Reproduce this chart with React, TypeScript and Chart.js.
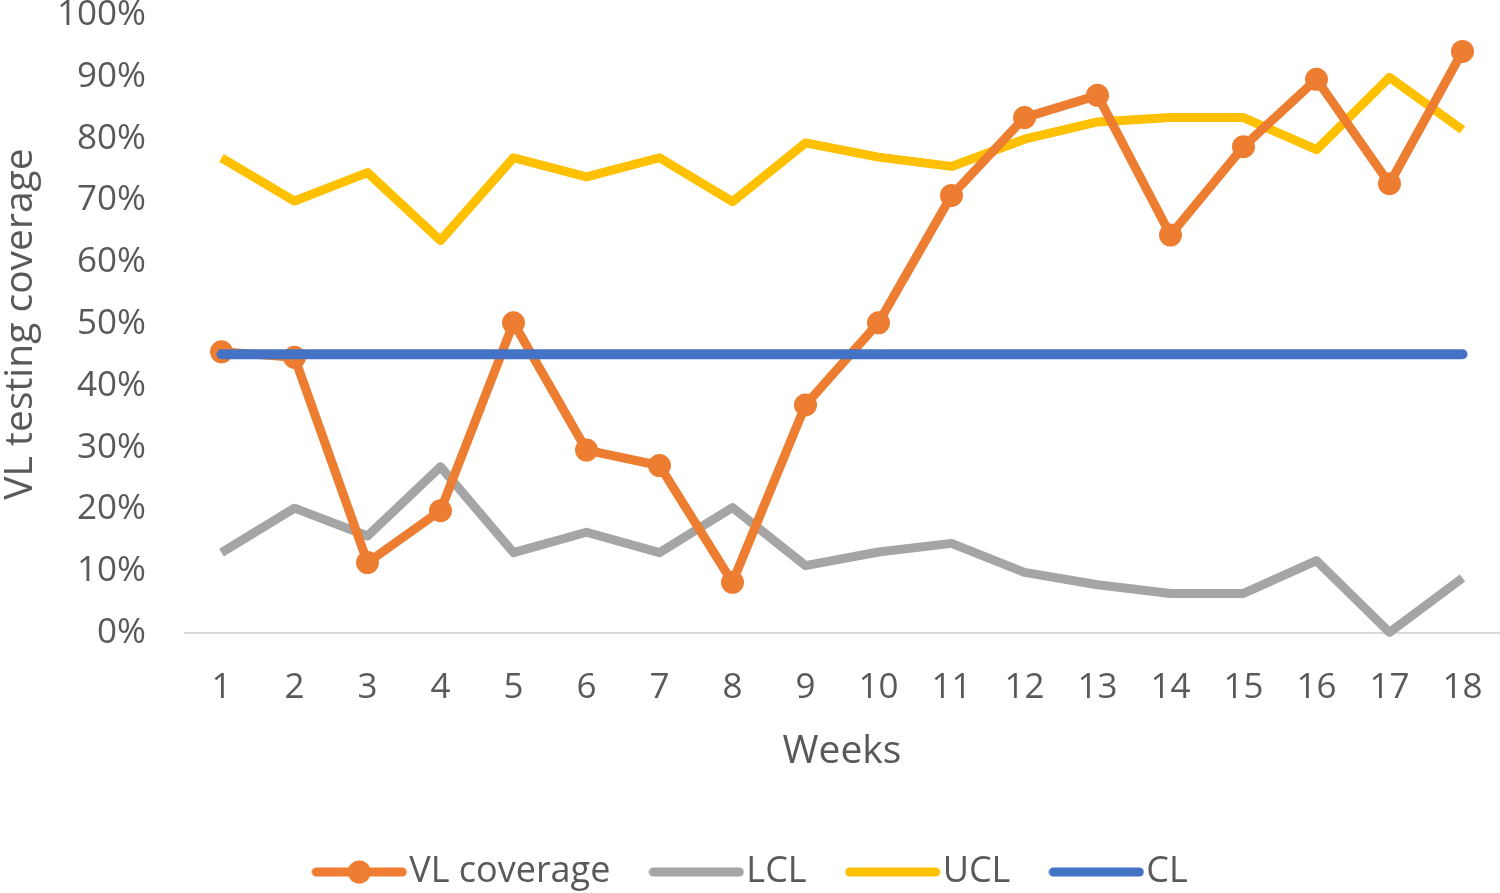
import React, { useEffect, useRef } from "react";
import { Chart, registerables } from "chart.js";

Chart.register(...registerables);

const weeks = ["1", "2", "3", "4", "5", "6", "7", "8", "9", "10", "11", "12", "13", "14", "15", "16", "17", "18"];
const vlCoverage = [45.5, 44.6, 11.4, 19.8, 50.2, 29.6, 27.1, 8.2, 36.9, 50.2, 70.8, 83.4, 87.0, 64.4, 78.7, 89.6, 72.7, 94.1];
const lcl = [13.0, 20.2, 15.7, 26.9, 13.0, 16.3, 13.0, 20.3, 10.9, 13.1, 14.5, 9.8, 7.8, 6.4, 6.4, 11.7, 0.1, 8.9];
const ucl = [76.9, 69.9, 74.5, 63.5, 76.9, 73.8, 76.9, 69.8, 79.3, 77.0, 75.5, 79.9, 82.7, 83.4, 83.4, 78.2, 89.9, 81.4];
const cl = [45.1, 45.1, 45.1, 45.1, 45.1, 45.1, 45.1, 45.1, 45.1, 45.1, 45.1, 45.1, 45.1, 45.1, 45.1, 45.1, 45.1, 45.1];
const yTicks = [0, 10, 20, 30, 40, 50, 60, 70, 80, 90, 100];

const ORANGE = "#ED7D31";
const GRAY = "#A5A5A5";
const YELLOW = "#FFC000";
const BLUE = "#4472C4";
const TEXT = "#595959";
const FONT = "'Open Sans', 'Noto Sans', sans-serif";

function legendImage(color: string, marker: boolean): HTMLCanvasElement {
  const c = document.createElement("canvas");
  c.width = 96;
  c.height = 26;
  const ctx = c.getContext("2d")!;
  ctx.strokeStyle = color;
  ctx.lineWidth = 9;
  ctx.lineCap = "round";
  ctx.beginPath();
  ctx.moveTo(5, 13);
  ctx.lineTo(91, 13);
  ctx.stroke();
  if (marker) {
    ctx.fillStyle = color;
    ctx.beginPath();
    ctx.arc(48, 13, 11.5, 0, Math.PI * 2);
    ctx.fill();
  }
  return c;
}

export default function App() {
  const ref = useRef<HTMLCanvasElement | null>(null);

  useEffect(() => {
    if (!ref.current) return;
    const images = [legendImage(ORANGE, true), legendImage(GRAY, false), legendImage(YELLOW, false), legendImage(BLUE, false)];
    const chart = new Chart(ref.current, {
      type: "line",
      data: {
        labels: weeks,
        datasets: [
          {
            label: "VL coverage",
            data: vlCoverage,
            borderColor: ORANGE,
            backgroundColor: ORANGE,
            borderWidth: 9,
            pointRadius: 10.5,
            pointBorderWidth: 2,
            pointBackgroundColor: ORANGE,
            pointBorderColor: ORANGE,
            borderJoinStyle: "round",
            tension: 0,
            order: 1,
            clip: false,
          },
          {
            label: "LCL",
            data: lcl,
            borderColor: GRAY,
            backgroundColor: GRAY,
            borderWidth: 9,
            pointRadius: 0,
            borderJoinStyle: "round",
            tension: 0,
            order: 3,
            clip: false,
          },
          {
            label: "UCL",
            data: ucl,
            borderColor: YELLOW,
            backgroundColor: YELLOW,
            borderWidth: 9,
            pointRadius: 0,
            borderJoinStyle: "round",
            tension: 0,
            order: 2,
            clip: false,
          },
          {
            label: "CL",
            data: cl,
            borderColor: BLUE,
            backgroundColor: BLUE,
            borderWidth: 10,
            pointRadius: 0,
            borderCapStyle: "round",
            tension: 0,
            order: 0,
            clip: false,
          },
        ],
      },
      options: {
        responsive: false,
        animation: false,
        layout: { autoPadding: false, padding: { left: 16, right: 1, top: 0, bottom: 0 } },
        plugins: {
          tooltip: { enabled: false },
          legend: {
            display: true,
            position: "bottom",
            maxHeight: 93,
            labels: {
              usePointStyle: true,
              pointStyleWidth: 64,
              padding: 54,
              color: TEXT,
              font: { family: FONT, size: 36 },
              generateLabels: (ch: any) =>
                ch.data.datasets.map((ds: any, i: number) => ({
                  text: ds.label,
                  datasetIndex: i,
                  pointStyle: images[i],
                  fillStyle: "rgba(0,0,0,0)",
                  strokeStyle: "rgba(0,0,0,0)",
                  lineWidth: 0,
                  hidden: false,
                  fontColor: TEXT,
                })),
            },
          },
        },
        scales: {
          x: {
            offset: true,
            grid: { display: false, drawTicks: false },
            border: { display: true, color: "#D9D9D9", width: 2 },
            ticks: { color: TEXT, font: { family: FONT, size: 35 }, padding: 34, maxRotation: 0, autoSkip: false },
            title: {
              display: true,
              text: "Weeks",
              color: TEXT,
              font: { family: FONT, size: 39 },
              padding: { top: 0, bottom: 24.6 },
            },
            afterFit: (s: any) => {
              s.height = 167;
              s.paddingLeft = 0;
              s.paddingRight = 0;
            },
          },
          y: {
            min: 0,
            max: 100,
            grid: { display: false, drawTicks: false },
            border: { display: false },
            afterBuildTicks: (s: any) => {
              s.ticks = yTicks.map((v) => ({ value: v }));
            },
            ticks: {
              color: TEXT,
              font: { family: FONT, size: 35 },
              padding: 39,
              callback: (v: any) => v + "%",
            },
            title: {
              display: true,
              text: "VL testing coverage",
              color: TEXT,
              font: { family: FONT, size: 39 },
              padding: { top: -19, bottom: 0 },
            },
            afterFit: (s: any) => {
              s.width = 169;
              s.paddingTop = 15;
              s.paddingBottom = 0;
            },
          },
        },
      },
    });
    return () => chart.destroy();
  }, []);

  return (
    <div style={{ position: "absolute", left: 0, top: 0, width: 1500, height: 893, background: "#fff" }}>
      <canvas ref={ref} width={1500} height={893} style={{ display: "block", width: 1500, height: 893 }} />
    </div>
  );
}
